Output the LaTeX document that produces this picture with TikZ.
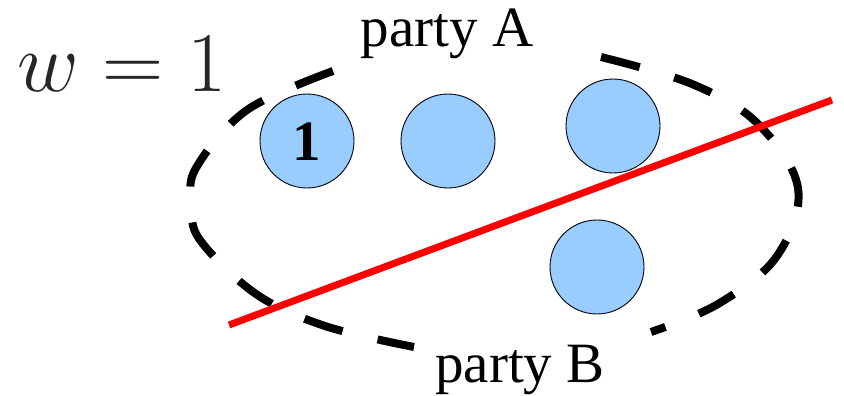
\RequirePackage{fix-cm}
\documentclass[tikz,border=0pt]{standalone}
\usepackage{fontspec}
\setmainfont{Liberation Serif}
\begin{document}
\begin{tikzpicture}[x=1pt,y=-1pt,
  agent/.style={circle,draw=black,line width=0.9pt,fill=agentblue,minimum size=94pt,inner sep=0pt},
  boundary/.style={line width=8pt,dash pattern=on 40pt off 36pt},
  cut/.style={red,line width=7pt},
  lbl/.style={font=\fontsize{57}{60}\selectfont,inner sep=0pt}]
\definecolor{agentblue}{RGB}{153,204,255}
\useasboundingbox (0,0) rectangle (844,396);
% dashed party boundary
\draw[boundary] plot[smooth,tension=0.6] coordinates {(333,71) (247,110) (196,168) (192,205) (200,240) (256,294) (325,326) (414,347)};
\draw[boundary] plot[smooth,tension=0.6] coordinates {(601,57) (692,84) (757,123) (798,188) (777,256) (718,304) (651,332)};
% agents
\node[agent] (c1) at (307,141) {};
\node[agent] (c2) at (448,141) {};
\node[agent] (c3) at (613,126) {};
\node[agent] (c4) at (597,267) {};
\node[font=\fontsize{57}{60}\selectfont\bfseries,inner sep=0pt] (one) at (307,142) {1};
% cut line
\coordinate (cA) at (229,325);
\coordinate (cB) at (832,100);
\draw[cut] (cA) -- (cB);
% labels
\node[lbl,anchor=base] (pa) at (447,47) {party A};
\node[lbl,anchor=base] (pb) at (520,382) {party B};
\node[anchor=base west,inner sep=0pt,text=black!85,font=\fontsize{85}{90}\selectfont] (w) at (17,92) {$w=1$};
\end{tikzpicture}
\end{document}
